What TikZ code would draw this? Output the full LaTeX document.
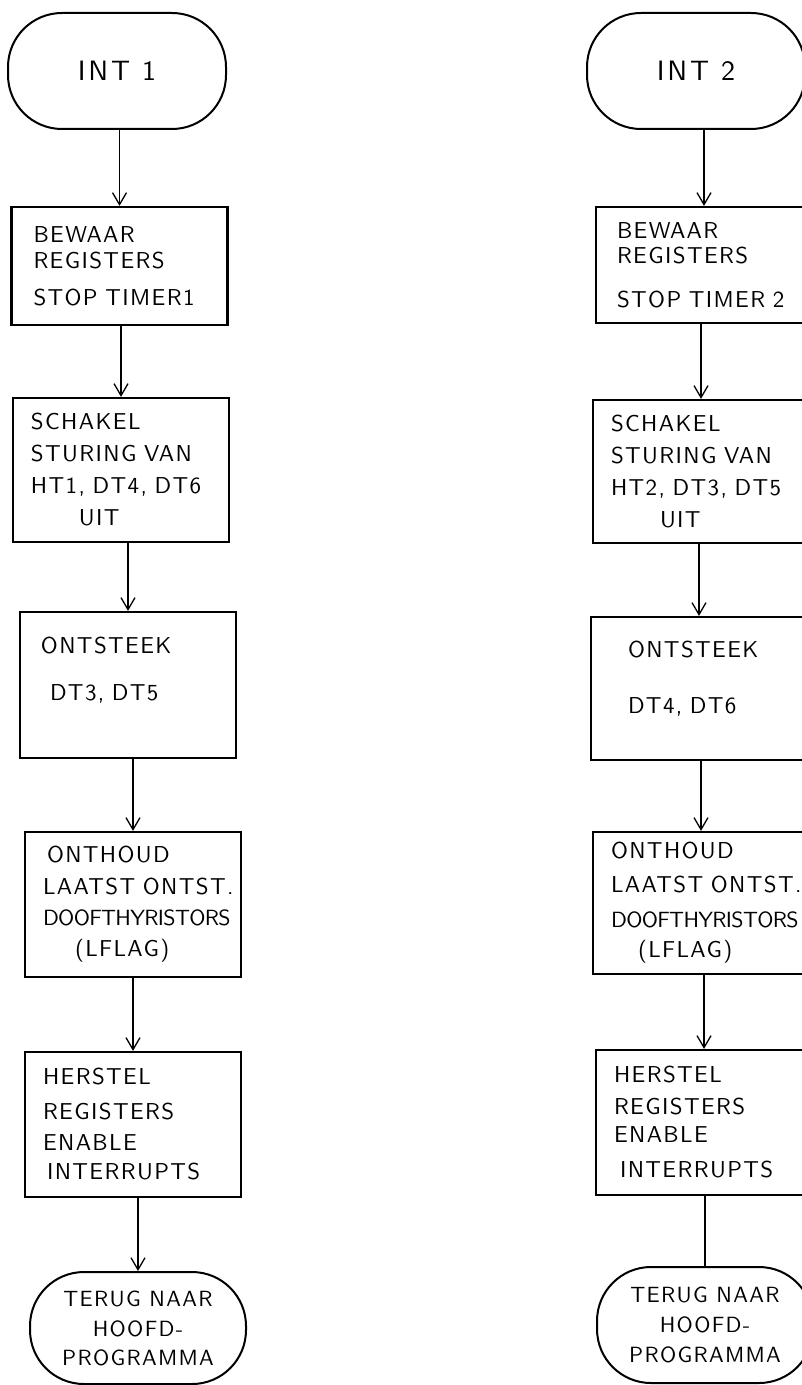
\documentclass[tikz,border=0pt]{standalone}
\usepackage{fontspec}
\newfontfamily\handfont{lmsans10-regular.otf}[LetterSpace=6]
\newfontfamily\intfont{lmsans10-regular.otf}[LetterSpace=10]
\newfontfamily\plainfont{lmsans10-regular.otf}[LetterSpace=-3]
\usetikzlibrary{arrows.meta}
\tikzset{
  termnode/.style={draw, line width=1pt, rounded corners=27pt, minimum width=109pt, minimum height=58pt, inner sep=2pt, align=center, font=\handfont\fontsize{11}{16}\selectfont},
  intnode/.style={termnode, font=\intfont\fontsize{14}{16}\selectfont},
  boxnode/.style={draw, line width=1.1pt, minimum width=108pt, text width=90pt, inner xsep=9pt, align=left, font=\handfont\fontsize{11.5}{16}\selectfont},
  flowarrow/.style={line width=0.65pt, -{Straight Barb[length=6pt,width=7pt]}},
  flowline/.style={line width=0.65pt}
}
\newcommand{\narrow}[1]{\mbox{\plainfont\fontsize{11}{16}\selectfont #1}}
\begin{document}
\begin{tikzpicture}[x=0.5pt, y=-0.5pt]
  \useasboundingbox (0,0) rectangle (802,1385);
  \clip (0,0) rectangle (802,1385);
  % left column: INT 1
  \node[intnode] (int1) at (117,71) {INT 1};
  \node[boxnode, minimum height=59pt] (save1) at (119.5,266) {\hspace*{2pt}BEWAAR\\[-3pt]\hspace*{2pt}REGISTERS\\[2.5pt]\hspace*{2pt}STOP~TIMER1};
  \node[boxnode, minimum height=72pt] (off1) at (121,470) {SCHAKEL\\STURING~VAN\\HT1,~DT4,~DT6\\\hspace*{24pt}UIT};
  \node[boxnode, minimum height=73pt] (fire1) at (128,685) {\hspace*{1.5pt}ONTSTEEK\\[7.5pt]\hspace*{6pt}DT3,~DT5\\\mbox{}};
  \node[boxnode, minimum height=72.5pt] (mem1) at (133,904.5) {\hspace*{2pt}ONTHOUD\\LAATST~ONTST.\\[-0.5pt]\narrow{DOOFTHYRISTORS}\\[-0.5pt]\hspace*{16pt}(LFLAG)};
  \node[boxnode, minimum height=72.5pt] (rest1) at (133,1124.5) {HERSTEL\\[1.5pt]REGISTERS\\[-0.5pt]ENABLE\\[-1.5pt]\hspace*{2pt}INTERRUPTS};
  \node[termnode, minimum width=108pt, minimum height=56pt] (back1) at (138,1328) {TERUG~NAAR\\[-1pt]HOOFD-\\[-1.5pt]PROGRAMMA};
  % right column: INT 2
  \node[intnode] (int2) at (696,71) {INT 2};
  \node[boxnode, minimum height=58pt] (save2) at (704,265) {\hspace*{1.5pt}BEWAAR\\[-3.5pt]\hspace*{1.5pt}REGISTERS\\[6pt]\hspace*{1.5pt}STOP~TIMER~2};
  \node[boxnode, minimum height=71.5pt] (off2) at (701,471.5) {SCHAKEL\\STURING~VAN\\HT2,~DT3,~DT5\\\hspace*{24.5pt}UIT};
  \node[boxnode, minimum height=71.5pt] (fire2) at (699,688.5) {\hspace*{9.5pt}ONTSTEEK\\[12pt]\hspace*{9.5pt}DT4,~DT6\\[-5pt]\mbox{}};
  \node[boxnode, minimum height=71pt] (mem2) at (701,903) {ONTHOUD\\[1pt]LAATST~ONTST.\\[1.5pt]\narrow{DOOFTHYRISTORS}\\[-1pt]\hspace*{13.5pt}(LFLAG)};
  \node[boxnode, minimum height=72.5pt] (rest2) at (704,1122.5) {HERSTEL\\REGISTERS\\[-2pt]ENABLE\\[1.5pt]\hspace*{3pt}INTERRUPTS};
  \node[termnode, minimum width=108pt, minimum height=58pt] (back2) at (705,1325) {TERUG~NAAR\\[-1pt]HOOFD-\\[-1pt]PROGRAMMA};
  % connectors
  \foreach \a/\b in {int1/save1, save1/off1, off1/fire1, fire1/mem1, mem1/rest1, rest1/back1,
                     int2/save2, save2/off2, off2/fire2, fire2/mem2, mem2/rest2}
    \draw[flowarrow] (\b.north |- \a.south) -- (\b.north);
  \draw[flowline] (back2.north |- rest2.south) -- (back2.north);
\end{tikzpicture}
\end{document}
